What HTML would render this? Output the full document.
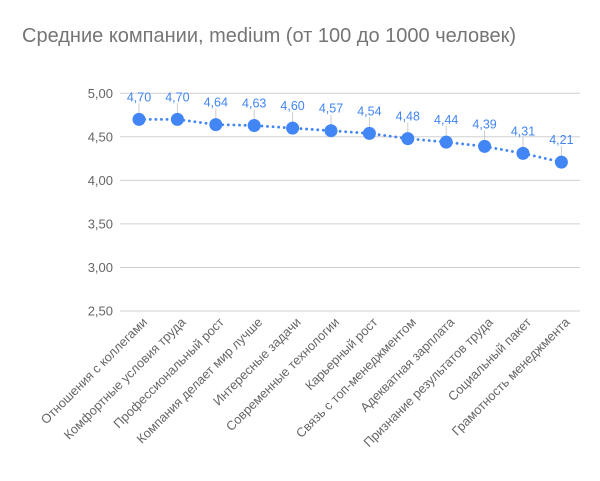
<!DOCTYPE html>
<html><head><meta charset="utf-8"><style>
body{margin:0;background:#fff;}
svg text{font-family:"Liberation Sans","DejaVu Sans",sans-serif;}
</style></head><body>
<svg width="600" height="476" viewBox="0 0 600 476" xmlns="http://www.w3.org/2000/svg">
<text x="22" y="42" font-size="20" fill="#757575">Средние компании, medium (от 100 до 1000 человек)</text>
<g stroke="#d0d0d0" stroke-width="1">
<line x1="120" x2="580" y1="93.3" y2="93.3"/>
<line x1="120" x2="580" y1="136.8" y2="136.8"/>
<line x1="120" x2="580" y1="180.4" y2="180.4"/>
<line x1="120" x2="580" y1="223.9" y2="223.9"/>
<line x1="120" x2="580" y1="267.5" y2="267.5"/>
<line x1="120" x2="580" y1="311" y2="311"/>
</g>
<g font-size="13" fill="#666" text-anchor="end">
<text x="113" y="98">5,00</text>
<text x="113" y="141.5">4,50</text>
<text x="113" y="185">4,00</text>
<text x="113" y="228.5">3,50</text>
<text x="113" y="272">3,00</text>
<text x="113" y="315.5">2,50</text>
</g>
<g stroke="#ccc" stroke-width="1">
<line x1="139" x2="139" y1="103.4" y2="119.4"/>
<line x1="177.4" x2="177.4" y1="103.4" y2="119.4"/>
<line x1="215.8" x2="215.8" y1="108.6" y2="124.6"/>
<line x1="254.2" x2="254.2" y1="109.5" y2="125.5"/>
<line x1="292.6" x2="292.6" y1="112.1" y2="128.1"/>
<line x1="331" x2="331" y1="114.7" y2="130.7"/>
<line x1="369.4" x2="369.4" y1="117.4" y2="133.4"/>
<line x1="407.8" x2="407.8" y1="122.6" y2="138.6"/>
<line x1="446.2" x2="446.2" y1="126.1" y2="142.1"/>
<line x1="484.6" x2="484.6" y1="130.4" y2="146.4"/>
<line x1="523" x2="523" y1="137.4" y2="153.4"/>
<line x1="561.4" x2="561.4" y1="146.1" y2="162.1"/>
</g>
<g font-size="12.5" fill="#4285f4" text-anchor="middle">
<text x="139" y="101.4">4,70</text>
<text x="177.4" y="101.4">4,70</text>
<text x="215.8" y="106.6">4,64</text>
<text x="254.2" y="107.5">4,63</text>
<text x="292.6" y="110.1">4,60</text>
<text x="331" y="112.7">4,57</text>
<text x="369.4" y="115.4">4,54</text>
<text x="407.8" y="120.6">4,48</text>
<text x="446.2" y="124.1">4,44</text>
<text x="484.6" y="128.4">4,39</text>
<text x="523" y="135.4">4,31</text>
<text x="561.4" y="144.1">4,21</text>
</g>
<polyline points="139,119.4 177.4,119.4 215.8,124.6 254.2,125.5 292.6,128.1 331,130.7 369.4,133.4 407.8,138.6 446.2,142.1 484.6,146.4 523,153.4 561.4,162.1" fill="none" stroke="#4285f4" stroke-width="2.8" stroke-dasharray="0.1 5.5" stroke-linecap="round"/>
<g fill="#4285f4">
<circle cx="139" cy="119.4" r="6.5"/>
<circle cx="177.4" cy="119.4" r="6.5"/>
<circle cx="215.8" cy="124.6" r="6.5"/>
<circle cx="254.2" cy="125.5" r="6.5"/>
<circle cx="292.6" cy="128.1" r="6.5"/>
<circle cx="331" cy="130.7" r="6.5"/>
<circle cx="369.4" cy="133.4" r="6.5"/>
<circle cx="407.8" cy="138.6" r="6.5"/>
<circle cx="446.2" cy="142.1" r="6.5"/>
<circle cx="484.6" cy="146.4" r="6.5"/>
<circle cx="523" cy="153.4" r="6.5"/>
<circle cx="561.4" cy="162.1" r="6.5"/>
</g>
<g font-size="12.8" fill="#666" text-anchor="end">
<text transform="translate(148,323) rotate(-45)">Отношения с коллегами</text>
<text transform="translate(186.4,323) rotate(-45)">Комфортные условия труда</text>
<text transform="translate(224.8,323) rotate(-45)">Профессиональный рост</text>
<text transform="translate(263.2,323) rotate(-45)">Компания делает мир лучше</text>
<text transform="translate(301.6,323) rotate(-45)">Интересные задачи</text>
<text transform="translate(340,323) rotate(-45)">Современные технологии</text>
<text transform="translate(378.4,323) rotate(-45)">Карьерный рост</text>
<text transform="translate(416.8,323) rotate(-45)">Связь с топ-менеджментом</text>
<text transform="translate(455.2,323) rotate(-45)">Адекватная зарплата</text>
<text transform="translate(493.6,323) rotate(-45)">Признание результатов труда</text>
<text transform="translate(532,323) rotate(-45)">Социальный пакет</text>
<text transform="translate(570.4,323) rotate(-45)">Грамотность менеджмента</text>
</g>
</svg>
</body></html>
